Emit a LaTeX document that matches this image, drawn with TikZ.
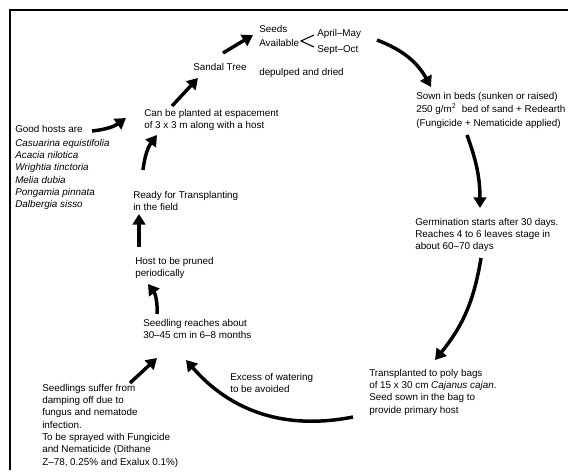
\documentclass[tikz,border=0pt]{standalone}
\usepackage{fontspec}
\setmainfont{Liberation Sans}
\usepackage{tikz}
\usetikzlibrary{arrows.meta}

\begin{document}
\begin{tikzpicture}[x=0.75pt, y=-0.75pt]
  \tikzset{stage/.style={anchor=north west, inner sep=0pt, align=left,
      font=\fontsize{7.4}{9.2}\selectfont}}
  \tikzset{cyclearrow/.style={line width=2.6pt,
      -{Triangle[length=8pt, width=9.5pt]}}}

  \useasboundingbox (0,0) rectangle (568,473);
  \fill[white] (0,0) rectangle (568,473);
  \draw[line width=1.5pt] (10,470) -- (10,10) -- (568,10);

  \node[stage, font=\fontsize{7.4}{10.5}\selectfont] (seeds) at (259,25) {Seeds\\Available};
  \node[stage, font=\fontsize{7.4}{12}\selectfont] (months) at (317,29) {April--May\\Sept--Oct};
  \node[stage] (sandal) at (193,63) {Sandal Tree};
  \node[stage] (depulp) at (259,68) {depulped and dried};
  \node[stage, font=\fontsize{7.4}{10}\selectfont] (sown) at (416,92)
    {Sown in beds (sunken or raised)\\250 g/m\textsuperscript{2}\ \ bed of sand + Redearth\\(Fungicide + Nematicide applied)};
  \node[stage] (germ) at (415,218)
    {Germination starts after 30 days.\\Reaches 4 to 6 leaves stage in\\about 60--70 days};
  \node[stage] (trans) at (369,369)
    {Transplanted to poly bags\\of 15 x 30 cm \textit{Cajanus cajan}.\\Seed sown in the bag to\\provide primary host};
  \node[stage] (excess) at (230,373) {Excess of watering\\to be avoided};
  \node[stage] (seedling) at (143,319) {Seedling reaches about\\30--45 cm in 6--8 months};
  \node[stage] (damping) at (42,384)
    {Seedlings suffer from\\damping off due to\\fungus and nematode\\infection.\\To be sprayed with Fungicide\\and Nematicide (Dithane\\Z--78, 0.25\% and Exalux 0.1\%)};
  \node[stage] (host) at (135,257) {Host to be pruned\\periodically};
  \node[stage] (ready) at (133,191) {Ready for Transplanting\\in the field};
  \node[stage] (plant) at (144,109) {Can be planted at espacement\\of 3 x 3 m along with a host};
  \node[stage] (goodhosts) at (15,125) {Good hosts are};
  \node[stage] (hostlist) at (15,139)
    {\textit{Casuarina equistifolia}\\\textit{Acacia nilotica}\\\textit{Wrightia tinctoria}\\\textit{Melia dubia}\\\textit{Pongamia pinnata}\\\textit{Dalbergia sisso}};

  % the two seasons
  \draw[line width=0.8pt] ([shift={(-3,6)}]months.north west)
    -- ([shift={(-16,12)}]months.north west) -- ([shift={(-3,18)}]months.north west);

  \draw[cyclearrow] ([shift={(30,-10)}]sandal.north west) -- ([shift={(-6,10)}]seeds.north west);
  \draw[cyclearrow] ([shift={(60,11)}]months.north west) to[bend left=20] ([shift={(15,-5)}]sown.north west);
  \draw[cyclearrow] ([shift={(51,43)}]sown.north west) to[bend left=10] ([shift={(65,-10)}]germ.north west);
  \draw[cyclearrow] ([shift={(66,40)}]germ.north west) to[bend left=15] ([shift={(66,-9)}]trans.north west);
  \draw[cyclearrow] ([shift={(-16,48)}]trans.north west) to[bend left=30] ([shift={(43,41)}]seedling.north west);
  \draw[cyclearrow] ([shift={(88,-1)}]damping.north west) -- ([shift={(14,39)}]seedling.north west);
  \draw[cyclearrow] ([shift={(14,-5)}]seedling.north west) to[bend right=20] ([shift={(13,27)}]host.north west);
  \draw[cyclearrow] ([shift={(4,-10)}]host.north west) -- ([shift={(6,23)}]ready.north west);
  \draw[cyclearrow] ([shift={(10,-21)}]ready.north west) to[bend left=15] ([shift={(13,26)}]plant.north west);
  \draw[cyclearrow] ([shift={(77,6)}]goodhosts.north west) to[bend right=15] ([shift={(-18,9)}]plant.north west);
  \draw[cyclearrow] ([shift={(28,-3)}]plant.north west) -- ([shift={(5,15)}]sandal.north west);
\end{tikzpicture}
\end{document}
